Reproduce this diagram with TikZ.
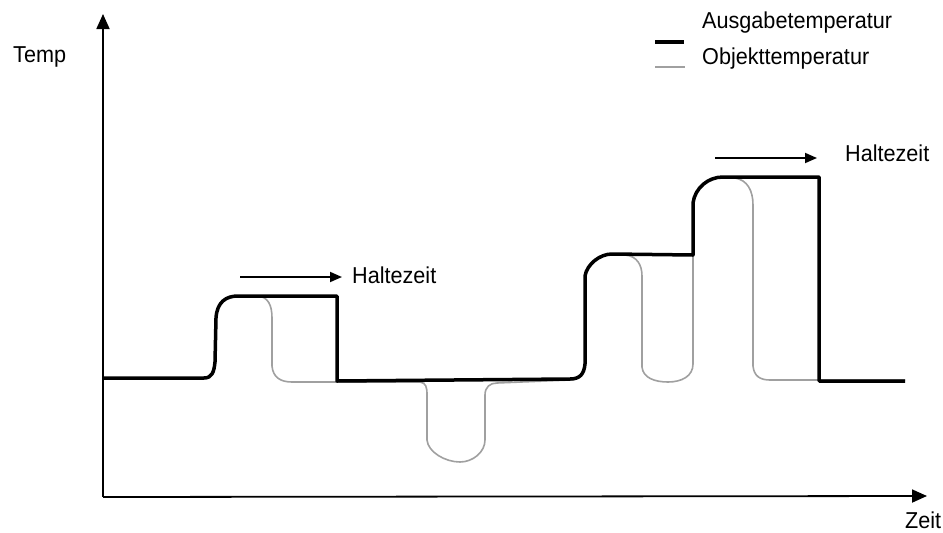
\documentclass[tikz,border=0pt]{standalone}
\usepackage{fontspec}
\setmainfont{Liberation Sans}[FakeStretch=0.94]
\usetikzlibrary{arrows.meta,positioning}
\definecolor{ink}{HTML}{000000}
\definecolor{objgray}{HTML}{A0A0A0}

\begin{document}
\begin{tikzpicture}[x=1pt,y=-1pt,
  font=\fontsize{23}{27}\selectfont,
  axis/.style={draw=ink,line width=1.8pt,-{Triangle[length=15pt,width=13pt]}},
  hold/.style={draw=ink,line width=1.8pt,-{Triangle[length=12pt,width=10pt]}},
  outtemp/.style={draw=ink,line width=3.5pt,line join=round},
  objtemp/.style={draw=objgray,line width=1.6pt,line join=round},
  lbl/.style={inner sep=0pt,anchor=west,text=ink}]
\useasboundingbox (0,0) rectangle (943,533);

% axes
\coordinate (origin) at (103,497);
\coordinate (ytip) at (103,14);
\coordinate (xtip) at (927,496);
\draw[axis] (origin) -- (ytip);
\draw[axis] (origin) -- (xtip);
\node[lbl] (temp) at (13,57) {Temp};
\node[lbl] (zeit) at (905,520) {Zeit};

% legend
\node[lbl] (lgout) at (702,23) {Ausgabetemperatur};
\node[lbl] (lgobj) at (702,59) {Objekttemperatur};
\coordinate (lgoutA) at (655,42);
\coordinate (lgoutB) at (684,42);
\coordinate (lgobjA) at (655,67);
\coordinate (lgobjB) at (685,67);
\draw[outtemp,line cap=butt] (lgoutA) -- (lgoutB);
\draw[objtemp] (lgobjA) -- (lgobjB);

% Objekttemperatur
\draw[objtemp] (104,378) -- (204,378) .. controls (212,378) and (214,372) .. (215,362)
  -- (216,318) .. controls (217,302) and (226,296) .. (238,296) -- (258,296)
  .. controls (268,297) and (272,305) .. (272,318) -- (272,366)
  .. controls (273,377) and (280,382) .. (292,382) -- (420,382)
  .. controls (426,383) and (427,387) .. (427,395) -- (427,440)
  .. controls (428,452) and (445,462) .. (460,462)
  .. controls (473,462) and (485,452) .. (485,440) -- (485,395)
  .. controls (485,387) and (490,383) .. (497,383) -- (570,380)
  .. controls (580,379) and (584,374) .. (585,364) -- (585,276)
  .. controls (587,264) and (600,254) .. (612,254) -- (625,255)
  .. controls (637,256) and (642,265) .. (642,276) -- (642,367)
  .. controls (643,378) and (655,382) .. (668,382)
  .. controls (682,382) and (693,376) .. (693,364) -- (693,203)
  .. controls (695,188) and (708,177) .. (723,177) -- (735,178)
  .. controls (747,180) and (753,190) .. (753,205) -- (753,366)
  .. controls (754,376) and (760,380) .. (770,380) -- (905,380);

% Ausgabetemperatur
\draw[outtemp] (104,378) -- (204,378) .. controls (212,378) and (214,372) .. (215,362)
  -- (216,318) .. controls (217,302) and (226,296) .. (238,296) -- (337,296)
  -- (337,381) -- (570,379) .. controls (580,379) and (584,374) .. (585,364)
  -- (585,276) .. controls (587,264) and (600,254) .. (612,254) -- (693,255)
  -- (693,203) .. controls (695,188) and (708,177) .. (723,177) -- (819,177)
  -- (819,381) -- (905,381);

% Haltezeit
\node[lbl] (hold1) at (352,275) {Haltezeit};
\coordinate (hold1A) at (240,277);
\coordinate (hold1B) at (342,277);
\draw[hold] (hold1A) -- (hold1B);
\node[lbl] (hold2) at (845,153) {Haltezeit};
\coordinate (hold2A) at (715,158);
\coordinate (hold2B) at (817,158);
\draw[hold] (hold2A) -- (hold2B);
\end{tikzpicture}
\end{document}
